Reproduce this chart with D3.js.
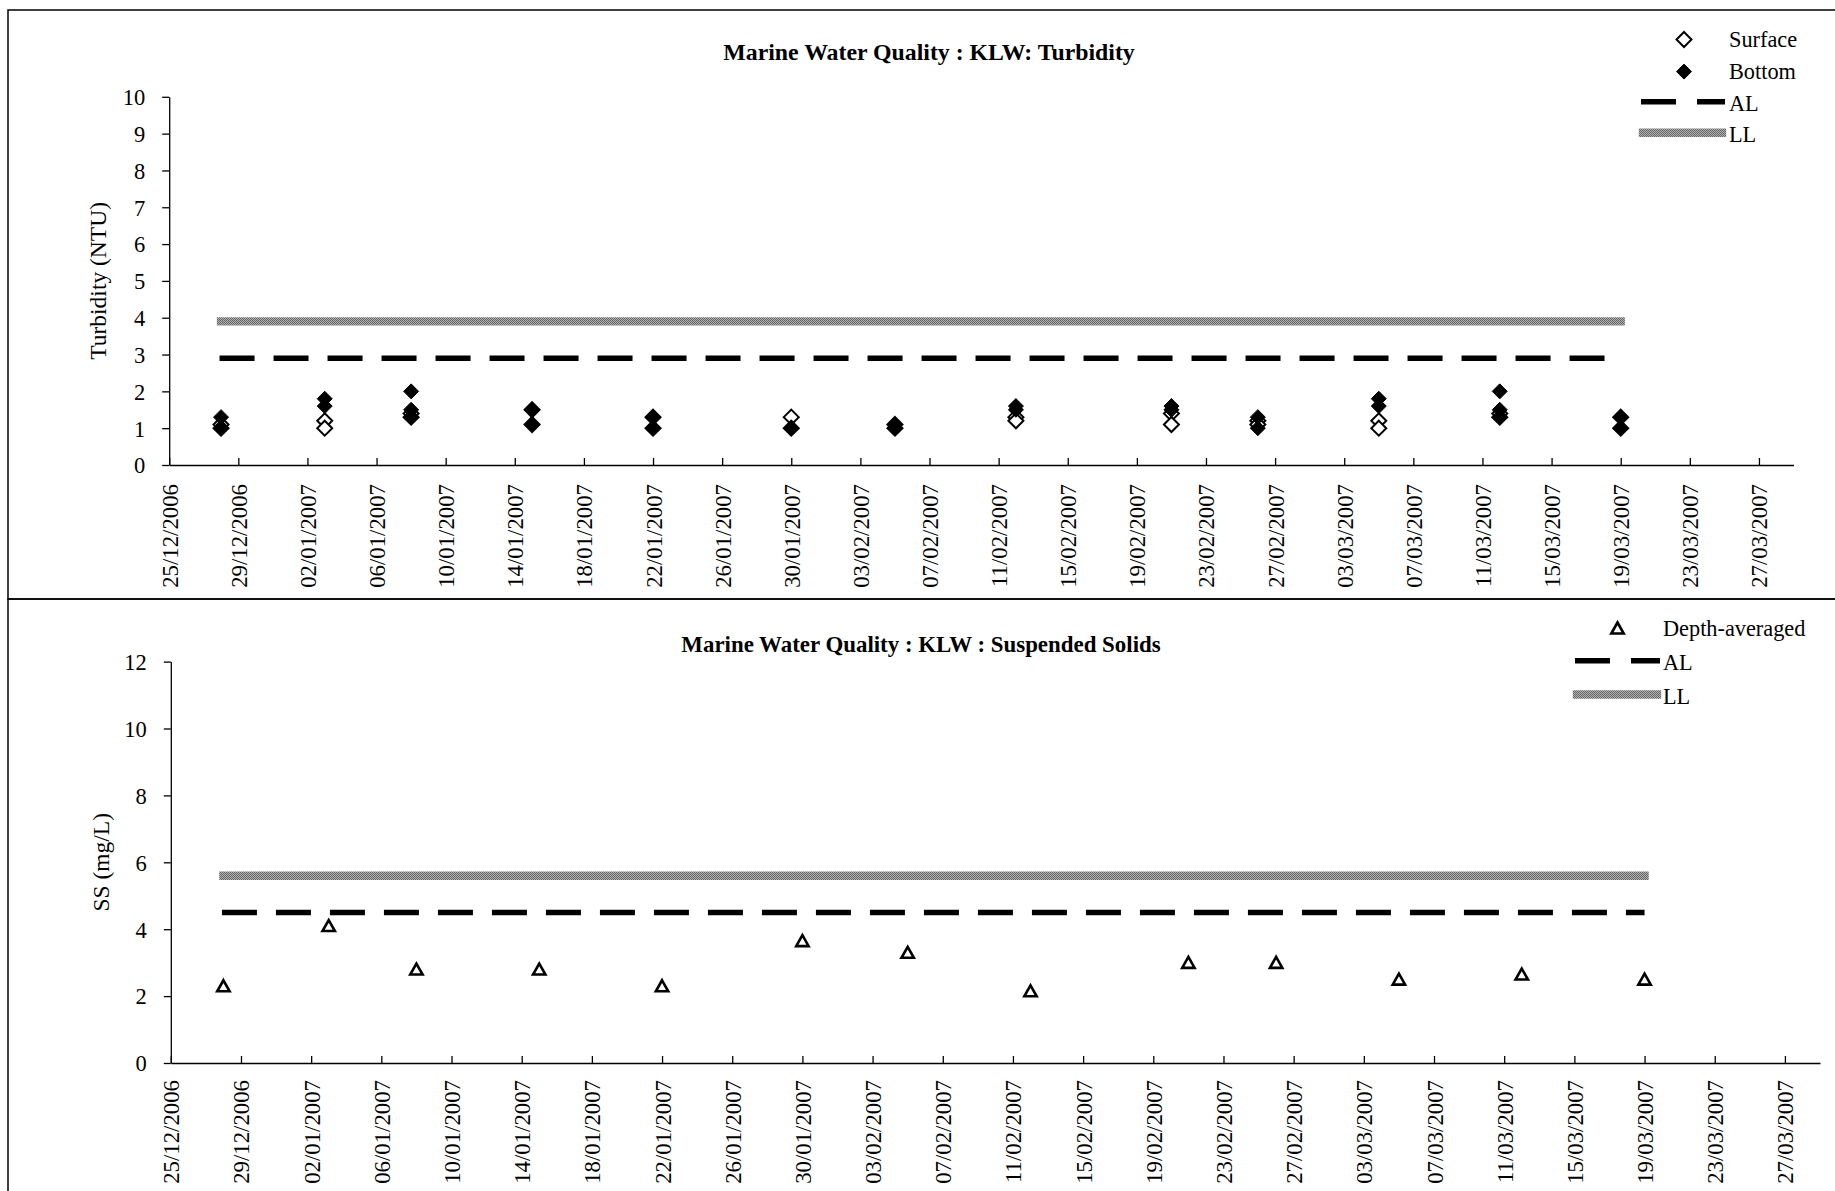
<!DOCTYPE html>
<html><head><meta charset="utf-8">
<script src="https://cdn.jsdelivr.net/npm/d3@7"></script>
<style>
body{margin:0;background:#fff}
svg{display:block}
text{font-family:"Liberation Serif","Times New Roman",serif;fill:#000}
</style>
</head><body>
<svg id="c" width="1835" height="1191"></svg>
<script>
// ---------------- data ----------------
const xDomain = ["25/12/2006", "29/03/2007"];
const tickLabels = ["25/12/2006","29/12/2006","02/01/2007","06/01/2007","10/01/2007","14/01/2007",
  "18/01/2007","22/01/2007","26/01/2007","30/01/2007","03/02/2007","07/02/2007","11/02/2007",
  "15/02/2007","19/02/2007","23/02/2007","27/02/2007","03/03/2007","07/03/2007","11/03/2007",
  "15/03/2007","19/03/2007","23/03/2007","27/03/2007"];
const sampleDates = ["28/12/2006","03/01/2007","08/01/2007","15/01/2007","22/01/2007","30/01/2007",
  "05/02/2007","12/02/2007","21/02/2007","26/02/2007","05/03/2007","12/03/2007","19/03/2007"];
const surfaceTurbidity = [[1.1,1.0],[1.2,1.0],[1.4,1.3],[1.5,1.1],[1.3,1.0],[1.3,1.0],
  [1.1,1.0],[1.3,1.2],[1.4,1.1],[1.2,1.1],[1.2,1.0],[1.4,1.3],[1.3,1.0]];
const bottomTurbidity = [[1.3,1.0],[1.8,1.6],[2.0,1.5,1.3],[1.5,1.1],[1.3,1.0],[1.0,1.0],
  [1.1,1.0],[1.6,1.5],[1.6,1.5],[1.3,1.0],[1.8,1.6],[2.0,1.5,1.3],[1.3,1.0]];
const depthAveragedSS = [2.3,4.1,2.8,2.8,2.3,3.65,3.3,2.15,3.0,3.0,2.5,2.65,2.5];
const turbidityLimits = {AL: 2.9, LL: 3.9};
const ssLimits = {AL: 4.5, LL: 5.6};
const limitSpan = ["28/12/2006", "19/03/2007"];
const turbidityTicks = [0,1,2,3,4,5,6,7,8,9,10];
const ssTicks = [0,2,4,6,8,10,12];

// ---------------- drawing ----------------
const parse = d3.utcParse("%d/%m/%Y");
const fmt = d3.utcFormat("%d/%m/%Y");
const svg = d3.select("#c");
svg.append("rect").attr("width",1835).attr("height",1191).attr("fill","#fff");

const defs = svg.append("defs");
const pat = defs.append("pattern").attr("id","dither").attr("patternUnits","userSpaceOnUse")
  .attr("width",2).attr("height",2);
pat.append("rect").attr("width",2).attr("height",2).attr("fill","#b0b0b0");
pat.append("rect").attr("width",1).attr("height",1).attr("fill","#666");
pat.append("rect").attr("x",1).attr("y",1).attr("width",1).attr("height",1).attr("fill","#666");

// panel borders
svg.append("rect").attr("x",8).attr("y",10).attr("width",1900).attr("height",589)
  .attr("fill","none").attr("stroke","#000").attr("stroke-width",1.5);
svg.append("rect").attr("x",8).attr("y",599).attr("width",1900).attr("height",700)
  .attr("fill","none").attr("stroke","#000").attr("stroke-width",1.5);

const diamond = "M0,-7.5L7.5,0L0,7.5L-7.5,0Z";
const triangle = "M0,-5.8L6.2,5.2L-6.2,5.2Z";

function panel(cfg){
  const g = svg.append("g");
  const x = d3.scaleUtc().domain(xDomain.map(parse)).range([cfg.left, cfg.right]);
  const y = d3.scaleLinear().domain([0, cfg.yMax]).range([cfg.y0, cfg.yTop]);

  // x axis
  const xa = g.append("g").attr("transform",`translate(0,${cfg.y0})`)
    .call(d3.axisBottom(x).tickValues(tickLabels.map(parse)).tickFormat(fmt)
      .tickSizeInner(-7).tickSizeOuter(0));
  xa.attr("font-family",null).attr("font-size",22.8);
  xa.selectAll("path,line").attr("stroke","#000").attr("stroke-width",1.3);
  xa.selectAll("text").attr("transform","rotate(-90)").attr("text-anchor","end")
    .attr("x",-cfg.labelGap).attr("y",0).attr("dy","0.35em").attr("fill","#000");

  // y axis
  const ya = g.append("g").attr("transform",`translate(${cfg.left},0)`)
    .call(d3.axisLeft(y).tickValues(cfg.ticks).tickSizeInner(7).tickSizeOuter(0).tickPadding(17));
  ya.attr("font-family",null).attr("font-size",22.5);
  ya.selectAll("path,line").attr("stroke","#000").attr("stroke-width",1.3);
  ya.selectAll("text").attr("fill","#000").attr("dy","0.35em");

  // y title
  g.append("text").attr("transform",`translate(${cfg.yTitleX},${(cfg.y0+cfg.yTop)/2}) rotate(-90)`)
    .attr("text-anchor","middle").attr("dy","0.35em").attr("font-size",23.5).text(cfg.yTitle);

  // title
  g.append("text").attr("x",cfg.titleX).attr("y",cfg.titleY).attr("text-anchor","middle")
    .attr("font-size",cfg.titleSize).attr("font-weight","bold").text(cfg.title);

  // limit lines
  const [s,e] = limitSpan.map(parse);
  g.append("line").attr("x1",x(s)).attr("x2",x(e)).attr("y1",y(cfg.limits.LL)).attr("y2",y(cfg.limits.LL))
    .attr("stroke","url(#dither)").attr("stroke-width",8.4).attr("stroke-linecap","square");
  g.append("line").attr("x1",x(s)-1.5).attr("x2",x(e)).attr("y1",y(cfg.limits.AL)).attr("y2",y(cfg.limits.AL))
    .attr("stroke","#000").attr("stroke-width",5.4).attr("stroke-dasharray","35,19");

  return {g,x,y};
}

// ---- Turbidity panel ----
const p1 = panel({left:169.2, right:1793.5, y0:465, yTop:96.8, yMax:10, ticks:turbidityTicks,
  labelGap:19, yTitle:"Turbidity (NTU)", yTitleX:98, title:"Marine Water Quality : KLW: Turbidity",
  titleX:929, titleY:60, titleSize:23.8, limits:turbidityLimits});

const surfPts = [], botPts = [];
sampleDates.forEach((d,i)=>{
  surfaceTurbidity[i].forEach(v=>surfPts.push({d:parse(d),v}));
  bottomTurbidity[i].forEach(v=>botPts.push({d:parse(d),v}));
});
p1.g.selectAll(".surf").data(surfPts).join("path").attr("class","surf")
  .attr("transform",d=>`translate(${p1.x(d.d)},${p1.y(d.v)})`).attr("d",diamond)
  .attr("fill","#fff").attr("stroke","#000").attr("stroke-width",2);
p1.g.selectAll(".bot").data(botPts).join("path").attr("class","bot")
  .attr("transform",d=>`translate(${p1.x(d.d)},${p1.y(d.v)})`).attr("d",diamond)
  .attr("fill","#000").attr("stroke","#000").attr("stroke-width",1);

// legend 1
const l1 = svg.append("g");
l1.append("path").attr("transform","translate(1684,39.5)").attr("d",diamond)
  .attr("fill","#fff").attr("stroke","#000").attr("stroke-width",2);
l1.append("path").attr("transform","translate(1684,71.6)").attr("d",diamond)
  .attr("fill","#000").attr("stroke","#000").attr("stroke-width",1);
l1.append("line").attr("x1",1641).attr("x2",1725).attr("y1",101.8).attr("y2",101.8)
  .attr("stroke","#000").attr("stroke-width",5.4).attr("stroke-dasharray","35,21");
l1.append("line").attr("x1",1643).attr("x2",1722).attr("y1",132.8).attr("y2",132.8)
  .attr("stroke","url(#dither)").attr("stroke-width",8.4).attr("stroke-linecap","square");
[["Surface",39.5],["Bottom",71.6],["AL",103.3],["LL",134.3]].forEach(([t,yy])=>{
  l1.append("text").attr("x",1729).attr("y",yy).attr("dy","0.35em").attr("font-size",22.3).text(t);
});

// ---- Suspended solids panel ----
const p2 = panel({left:170.8, right:1820, y0:1063, yTop:661.6, yMax:12, ticks:ssTicks,
  labelGap:17, yTitle:"SS (mg/L)", yTitleX:100.8, title:"Marine Water Quality : KLW : Suspended Solids",
  titleX:921, titleY:652, titleSize:22.9, limits:ssLimits});

p2.g.selectAll(".ss").data(sampleDates.map((d,i)=>({d:parse(d),v:depthAveragedSS[i]}))).join("path")
  .attr("class","ss").attr("transform",d=>`translate(${p2.x(d.d)},${p2.y(d.v)})`).attr("d",triangle)
  .attr("fill","#fff").attr("stroke","#000").attr("stroke-width",2.6);

// legend 2
const l2 = svg.append("g");
l2.append("path").attr("transform","translate(1617.5,628.3)").attr("d",triangle)
  .attr("fill","#fff").attr("stroke","#000").attr("stroke-width",2.6);
l2.append("line").attr("x1",1575).attr("x2",1660).attr("y1",660.8).attr("y2",660.8)
  .attr("stroke","#000").attr("stroke-width",5.4).attr("stroke-dasharray","35,21");
l2.append("line").attr("x1",1577).attr("x2",1657).attr("y1",694.5).attr("y2",694.5)
  .attr("stroke","url(#dither)").attr("stroke-width",8.4).attr("stroke-linecap","square");
[["Depth-averaged",628.3],["AL",662.3],["LL",696]].forEach(([t,yy])=>{
  l2.append("text").attr("x",1663).attr("y",yy).attr("dy","0.35em").attr("font-size",22.3).text(t);
});
</script>
</body></html>
